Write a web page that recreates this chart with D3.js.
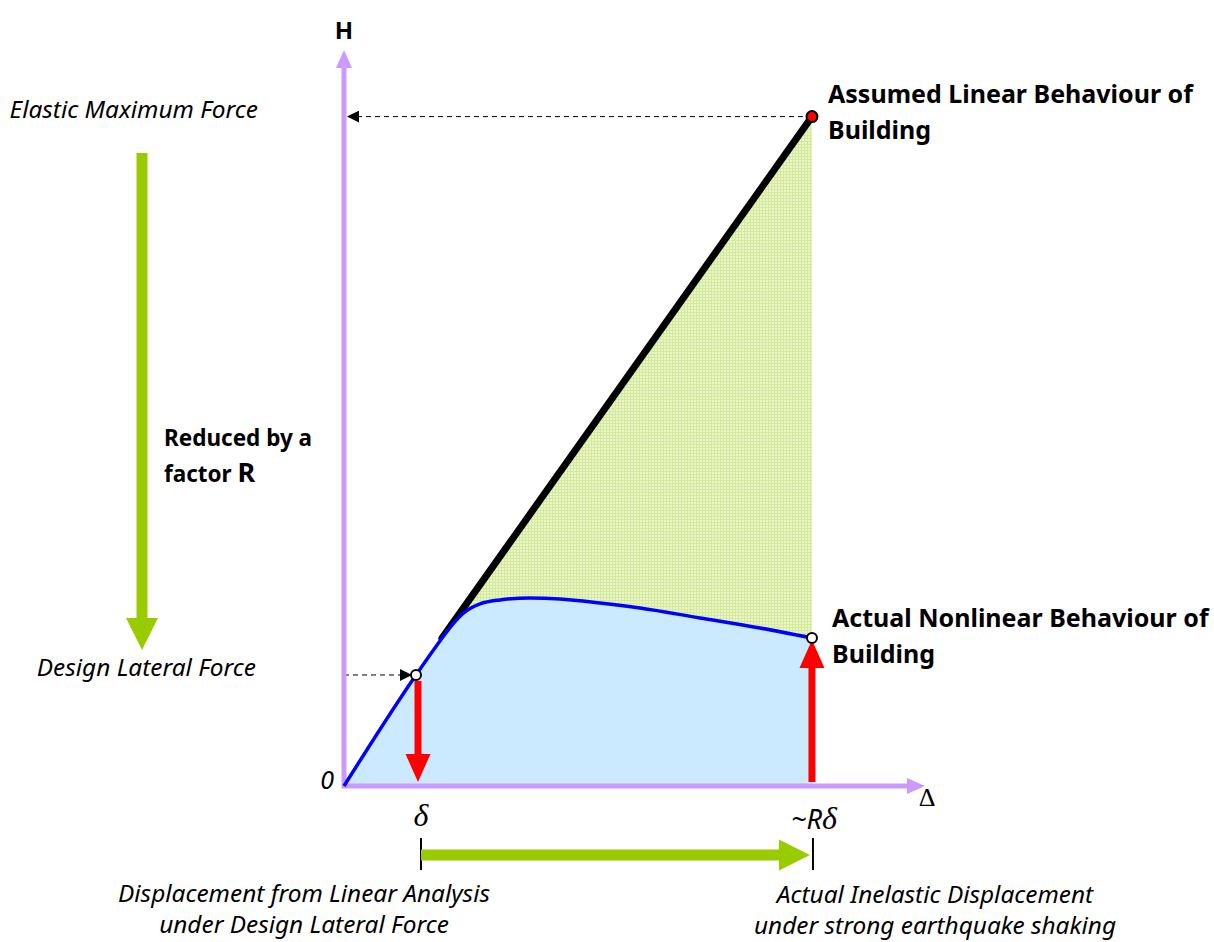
<!DOCTYPE html>
<html>
<head>
<meta charset="utf-8">
<script src="https://cdn.jsdelivr.net/npm/d3@7"></script>
<style>
  body { margin: 0; background: #fff; }
  text { font-family: "Noto Sans", "Open Sans", sans-serif; fill: #000; }
  .ital { font-style: italic; }
  .bold { font-weight: bold; }
  .greek { font-family: "Liberation Serif", "DejaVu Serif", serif; }
</style>
</head>
<body>
<svg id="chart"></svg>
<script>
// values in units of δ (displacement) and design force (H)
const DELTA = 1;          // displacement from linear analysis
const R_DELTA = 6.5;      // actual inelastic displacement ~Rδ
const H_DESIGN = 1;       // design lateral force
const H_ELASTIC = 6.03;   // elastic maximum force
const X_MAX = 8.07, Y_MAX = 6.63;

// actual nonlinear behaviour (blue curve)
const nonlinX = [0, 1, 1.333, 1.5, 1.68, 1.889, 2.167, 2.583, 3.0, 3.556, 4.111, 4.944, 5.778, 6.5];
const nonlinH = [0, 1, 1.306, 1.45, 1.568, 1.64, 1.676, 1.694, 1.685, 1.649, 1.604, 1.514, 1.423, 1.333];
// assumed linear behaviour (black line), visible from where the curves split
const linX = [1.36, R_DELTA];
const linH = [1.33, H_ELASTIC];

const W = 1214, H = 942;
const svg = d3.select("#chart").attr("width", W).attr("height", H);

const x = d3.scaleLinear().domain([0, X_MAX]).range([344, 925]);
const y = d3.scaleLinear().domain([0, Y_MAX]).range([786, 50]);

const AXIS_COL = "#cc99ff", GREEN = "#99cc00", RED = "#ff0000", BLUE = "#0000ff";
const ITAL_SIZE = "24.4px", BOLD_SIZE = "25px";

const nonlin = nonlinX.map((v, i) => [v, nonlinH[i]]);
const lin = linX.map((v, i) => [v, linH[i]]);
const hEnd = nonlinH[nonlinH.length - 1];

// arrow polygon from (x1,y1) to tip (x2,y2), pixel space
function arrowPath(x1, y1, x2, y2, shaftW, headW, headL) {
  const dx = x2 - x1, dy = y2 - y1, len = Math.hypot(dx, dy);
  const ux = dx / len, uy = dy / len, nx = -uy, ny = ux;
  const bx = x2 - ux * headL, by = y2 - uy * headL;
  const p = [
    [x1 + nx * shaftW / 2, y1 + ny * shaftW / 2],
    [bx + nx * shaftW / 2, by + ny * shaftW / 2],
    [bx + nx * headW / 2, by + ny * headW / 2],
    [x2, y2],
    [bx - nx * headW / 2, by - ny * headW / 2],
    [bx - nx * shaftW / 2, by - ny * shaftW / 2],
    [x1 - nx * shaftW / 2, y1 - ny * shaftW / 2]
  ];
  return "M" + p.map(d => d.join(",")).join("L") + "Z";
}

// pattern for the green region
const defs = svg.append("defs");
const pat = defs.append("pattern").attr("id", "grid")
  .attr("width", 3).attr("height", 3).attr("patternUnits", "userSpaceOnUse");
pat.append("rect").attr("width", 3).attr("height", 3).attr("fill", "#eaf5cc");
pat.append("rect").attr("width", 3).attr("height", 1).attr("fill", "#d3ea9a");
pat.append("rect").attr("width", 1).attr("height", 3).attr("fill", "#d3ea9a");

defs.append("marker").attr("id", "head")
  .attr("viewBox", "0 0 10 10").attr("refX", 10).attr("refY", 5)
  .attr("markerWidth", 14).attr("markerHeight", 12)
  .attr("markerUnits", "userSpaceOnUse").attr("orient", "auto")
  .append("path").attr("d", "M0,0L10,5L0,10Z").attr("fill", "#000");

const lineGen = d3.line().x(d => x(d[0])).y(d => y(d[1]));
const curveGen = d3.line().x(d => x(d[0])).y(d => y(d[1])).curve(d3.curveMonotoneX);

// clip: only the part above the nonlinear curve
defs.append("clipPath").attr("id", "above")
  .append("path")
  .attr("d", curveGen(nonlin) + "L" + x(X_MAX) + "," + y(hEnd) + "L" + x(X_MAX) + ",0L" + x(0) + ",0Z");

// blue area under the nonlinear curve
svg.append("path")
  .attr("d", d3.area().x(d => x(d[0])).y0(y(0)).y1(d => y(d[1])).curve(d3.curveMonotoneX)(nonlin))
  .attr("fill", "#cceaff");

// green region between linear line and nonlinear curve
const greenPts = lin.concat([[R_DELTA, hEnd]])
  .concat(nonlin.filter(d => d[0] > linX[0]).reverse());
svg.append("path").attr("d", lineGen(greenPts) + "Z").attr("fill", "url(#grid)");

// dashed guide arrows
svg.append("line")
  .attr("x1", x(R_DELTA)).attr("y1", y(H_ELASTIC))
  .attr("x2", x(0) + 3).attr("y2", y(H_ELASTIC))
  .attr("stroke", "#000").attr("stroke-width", 1).attr("stroke-dasharray", "5,4")
  .attr("marker-end", "url(#head)");
svg.append("line")
  .attr("x1", x(0)).attr("y1", y(H_DESIGN))
  .attr("x2", x(DELTA) - 4).attr("y2", y(H_DESIGN))
  .attr("stroke", "#000").attr("stroke-width", 1).attr("stroke-dasharray", "5,4")
  .attr("marker-end", "url(#head)");

// axes
svg.append("path").attr("d", arrowPath(x(0), y(0) + 2, x(0), y(Y_MAX), 5, 16, 18)).attr("fill", AXIS_COL);
svg.append("path").attr("d", arrowPath(x(0) - 2, y(0), x(X_MAX), y(0), 5, 16, 18)).attr("fill", AXIS_COL);

// linear behaviour
svg.append("path").attr("d", lineGen(lin))
  .attr("clip-path", "url(#above)")
  .attr("stroke", "#000").attr("stroke-width", 7).attr("stroke-linecap", "round").attr("fill", "none");

// nonlinear behaviour
svg.append("path").attr("d", curveGen(nonlin))
  .attr("stroke", BLUE).attr("stroke-width", 3.5).attr("fill", "none");

// red arrows
svg.append("path").attr("d", arrowPath(x(DELTA) + 2, y(H_DESIGN) + 6, x(DELTA) + 2, y(0) - 4, 7, 25, 28)).attr("fill", RED);
svg.append("path").attr("d", arrowPath(x(R_DELTA), y(0) - 4, x(R_DELTA), y(hEnd) + 2, 7, 25, 28)).attr("fill", RED);

// points
svg.append("circle").attr("cx", x(R_DELTA)).attr("cy", y(H_ELASTIC)).attr("r", 5.5)
  .attr("fill", RED).attr("stroke", "#000").attr("stroke-width", 2);
svg.append("circle").attr("cx", x(DELTA)).attr("cy", y(H_DESIGN)).attr("r", 5)
  .attr("fill", "#fff").attr("stroke", "#000").attr("stroke-width", 2);
svg.append("circle").attr("cx", x(R_DELTA)).attr("cy", y(hEnd)).attr("r", 5)
  .attr("fill", "#fff").attr("stroke", "#000").attr("stroke-width", 2);

// displacement marker ticks + green arrow
[DELTA, R_DELTA].forEach(v => {
  const px = v === DELTA ? x(v) + 5 : x(v) + 1;
  svg.append("line").attr("x1", px).attr("x2", px).attr("y1", 838).attr("y2", 870)
    .attr("stroke", "#000").attr("stroke-width", 2);
});
svg.append("path").attr("d", arrowPath(x(DELTA) + 5, 855, x(R_DELTA) - 2, 855, 11, 31, 31)).attr("fill", GREEN);

// left reduction arrow
svg.append("path").attr("d", arrowPath(142, 153, 142, 650, 11, 32, 32)).attr("fill", GREEN);

// labels
svg.append("text").attr("class", "bold").attr("x", x(0)).attr("y", 39)
  .attr("text-anchor", "middle").style("font-size", "24px").text("H");
svg.append("text").attr("class", "ital").attr("x", 334).attr("y", 789)
  .attr("text-anchor", "end").style("font-size", "25px").text("0");
svg.append("text").attr("class", "greek").attr("x", 927).attr("y", 806)
  .attr("text-anchor", "middle").style("font-size", "26px").text("Δ");
svg.append("text").attr("class", "greek ital").attr("x", x(DELTA) + 5).attr("y", 826)
  .attr("text-anchor", "middle").style("font-size", "32px").text("δ");
const rd = svg.append("text").attr("x", x(R_DELTA) + 2).attr("y", 829).attr("text-anchor", "middle");
rd.append("tspan").attr("class", "ital").style("font-size", "27px").text("~R");
rd.append("tspan").attr("class", "greek ital").style("font-size", "32px").text("δ");

svg.append("text").attr("class", "ital").attr("x", 258).attr("y", 118)
  .attr("text-anchor", "end").style("font-size", ITAL_SIZE).text("Elastic Maximum Force");
svg.append("text").attr("class", "ital").attr("x", 256).attr("y", 676)
  .attr("text-anchor", "end").style("font-size", ITAL_SIZE).text("Design Lateral Force");

svg.append("text").attr("class", "bold").attr("x", 164).attr("y", 446)
  .style("font-size", "22.5px").text("Reduced by a");
const fr = svg.append("text").attr("class", "bold").attr("x", 164).attr("y", 482).style("font-size", "22.5px");
fr.append("tspan").text("factor ");
fr.append("tspan").style("font-size", "27px").text("R");

svg.append("text").attr("class", "bold").attr("x", 828).attr("y", 103).style("font-size", BOLD_SIZE)
  .text("Assumed Linear Behaviour of");
svg.append("text").attr("class", "bold").attr("x", 828).attr("y", 139).style("font-size", BOLD_SIZE)
  .text("Building");
svg.append("text").attr("class", "bold").attr("x", 832).attr("y", 627).style("font-size", BOLD_SIZE)
  .text("Actual Nonlinear Behaviour of");
svg.append("text").attr("class", "bold").attr("x", 832).attr("y", 663).style("font-size", BOLD_SIZE)
  .text("Building");

svg.append("text").attr("class", "ital").attr("x", 304).attr("y", 902).attr("text-anchor", "middle")
  .style("font-size", ITAL_SIZE).text("Displacement from Linear Analysis");
svg.append("text").attr("class", "ital").attr("x", 304).attr("y", 933).attr("text-anchor", "middle")
  .style("font-size", ITAL_SIZE).text("under Design Lateral Force");
svg.append("text").attr("class", "ital").attr("x", 935).attr("y", 903).attr("text-anchor", "middle")
  .style("font-size", ITAL_SIZE).text("Actual Inelastic Displacement");
svg.append("text").attr("class", "ital").attr("x", 935).attr("y", 934).attr("text-anchor", "middle")
  .style("font-size", ITAL_SIZE).text("under strong earthquake shaking");
</script>
</body>
</html>
